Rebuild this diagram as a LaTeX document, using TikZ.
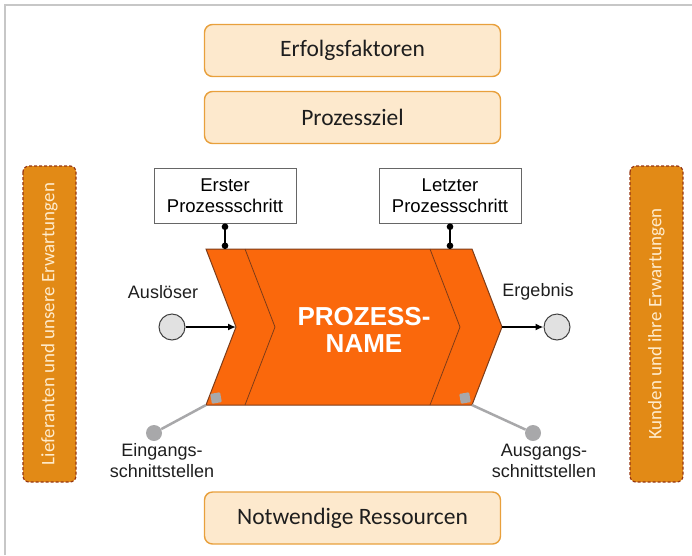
\documentclass[tikz,border=0pt]{standalone}
\usepackage{fontspec}
\setmainfont{Liberation Sans}
\newfontfamily\carlito{Carlito}
\usetikzlibrary{positioning,arrows.meta}
\definecolor{prozorange}{RGB}{250,104,12}
\definecolor{prozrand}{RGB}{125,60,25}
\definecolor{faktorfill}{RGB}{253,233,205}
\definecolor{faktorrand}{RGB}{232,160,60}
\definecolor{seitenfill}{RGB}{226,138,22}
\definecolor{seitenrand}{RGB}{150,55,20}
\definecolor{seitentext}{RGB}{255,236,205}
\definecolor{hellgrau}{RGB}{168,168,170}
\definecolor{kreisfill}{RGB}{225,225,225}
\definecolor{textdunkel}{RGB}{30,30,30}

\begin{document}
\begin{tikzpicture}[x=1pt,y=-1pt,
  faktor/.style={draw=faktorrand,fill=faktorfill,line width=1.4pt,rounded corners=8pt,
    minimum width=296pt,minimum height=52pt,text=textdunkel,
    font=\carlito\fontsize{23.5}{28}\selectfont},
  seite/.style={draw=seitenrand,fill=seitenfill,line width=1.2pt,dash pattern=on 3pt off 2pt,
    rounded corners=6pt,rotate=90,minimum width=316pt,minimum height=53pt,
    text=seitentext,font=\carlito\fontsize{19}{22}\selectfont},
  schritt/.style={draw=black!60,fill=white,line width=1pt,minimum width=142pt,
    minimum height=55pt,align=center,font=\fontsize{18.5}{21.5}\selectfont},
  etikett/.style={align=center,font=\fontsize{18}{21}\selectfont,text=textdunkel},
  kreis/.style={circle,draw=black!75,fill=kreisfill,line width=1pt,minimum size=26pt,inner sep=0pt},
  graupunkt/.style={circle,fill=hellgrau,minimum size=16pt,inner sep=0pt},
  graueck/.style={fill=hellgrau,rounded corners=1pt,minimum size=10pt,inner sep=0pt,rotate=10},
  chevron/.style={fill=prozorange,draw=prozrand,line width=1pt,line join=miter},
  pfeil/.style={line width=2pt,-{Latex[length=8pt,width=7pt]}},
  stiel/.style={line width=2pt,{Circle[length=6.5pt]}-{Circle[length=6.5pt]}},
  grau/.style={draw=hellgrau,line width=2.5pt}]
  \useasboundingbox (0,0) rectangle (692,555);
  % Rahmen
  \draw[black!22,line width=1.5pt] (5,555) -- (5,5) -- (692,5);
  % Kopf und Fuss
  \node[faktor] (erfolg) at (352.5,50.5) {Erfolgsfaktoren};
  \node[faktor] (ziel) at (352.5,117.5) {Prozessziel};
  \node[faktor] (ressourcen) at (352.5,518) {Notwendige Ressourcen};
  % Seiten
  \node[seite] (lieferanten) at (49.5,324) {Lieferanten und unsere Erwartungen};
  \node[seite] (kunden) at (656.5,324) {Kunden und ihre Erwartungen};
  % Prozesspfeil
  \coordinate (olinks) at (206,249);
  \coordinate (kerbe) at (236,327);
  \coordinate (ulinks) at (206,405);
  \coordinate (orechts) at (472,249);
  \coordinate (spitze) at (502,327);
  \coordinate (urechts) at (472,405);
  \draw[chevron] (olinks) -- (orechts) -- (spitze) -- (urechts) -- (ulinks) -- (kerbe) -- cycle;
  \draw[prozrand,line width=0.8pt] (245,249) -- (275,327) -- (245,405);
  \draw[prozrand,line width=0.8pt] (430,249) -- (460,327) -- (430,405);
  \node[text=white,align=center,font=\bfseries\fontsize{26}{27}\selectfont] (pname) at (364,330) {PROZESS-\\NAME};
  % erster und letzter Schritt
  \node[schritt] (erster) at (225,195.5) {Erster\\Prozessschritt};
  \node[schritt] (letzter) at (450,195.5) {Letzter\\Prozessschritt};
  \draw[stiel] (erster.south) -- (erster.south |- olinks);
  \draw[stiel] (letzter.south) -- (letzter.south |- orechts);
  % Ausloeser und Ergebnis
  \node[etikett] (ausl) at (163,292) {Auslöser};
  \node[kreis] (ein) at (172,327) {};
  \draw[pfeil] (ein) -- (kerbe);
  \node[etikett] (ergeb) at (538,292) {Ergebnis};
  \node[kreis] (aus) at (557,327) {};
  \draw[pfeil] (spitze) -- (aus);
  % Schnittstellen
  \node[graupunkt] (eindot) at (154,433) {};
  \node[graupunkt] (ausdot) at (533,433) {};
  \draw[grau] (eindot) -- (ulinks);
  \draw[grau] (ausdot) -- (urechts);
  \node[graueck] (eineck) at (216,398) {};
  \node[graueck] (auseck) at (465,398) {};
  \node[etikett] (eing) at (162,461) {Eingangs-\\schnittstellen};
  \node[etikett] (ausg) at (544,461) {Ausgangs-\\schnittstellen};
\end{tikzpicture}
\end{document}
